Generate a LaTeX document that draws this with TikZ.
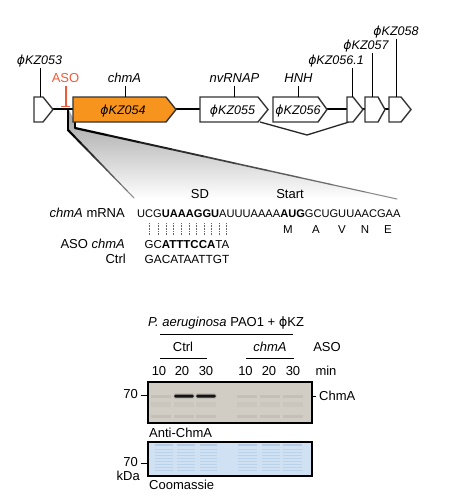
\documentclass[tikz,border=0pt]{standalone}
\usepackage{fontspec}
\setmainfont{Liberation Sans}
\newfontfamily\phifont{DejaVu Sans}
\usetikzlibrary{calc}
\definecolor{gene}{HTML}{F7941D}
\definecolor{asored}{HTML}{EF5B3A}
\definecolor{blotbg}{HTML}{D1CCC4}
\definecolor{coombg}{HTML}{CFE1F2}
\definecolor{coomband}{HTML}{9FBFE0}
\newcommand{\phit}{{\phifont\itshape ϕ}}
\newcommand{\phup}{{\phifont ϕ}}
\newcommand{\genearrow}[4][fill=white]{\draw[genebox,#1] (#2,97) -- (#3,97) -- (#4,109.5) -- (#3,122) -- (#2,122) -- cycle;}
\begin{document}
\begin{tikzpicture}[x=1pt,y=-1pt,
  lbl/.style={inner sep=0, font=\fontsize{13}{15}\selectfont},
  ilbl/.style={inner sep=0, font=\fontsize{13}{15}\selectfont\itshape},
  gl/.style={inner sep=0, font=\fontsize{12.5}{14}\selectfont\itshape},
  seqtxt/.style={inner sep=0, font=\fontsize{11.1}{13}\selectfont},
  genebox/.style={draw=black!80, line width=1.4pt, line join=miter},
  backbone/.style={line width=2.8pt},
  leader/.style={line width=0.7pt},
  pairline/.style={line width=0.5pt, black!60, dash pattern=on 0.8pt off 0.8pt},
  rule/.style={line width=0.7pt}]
\useasboundingbox (0,0) rectangle (451,504);
\fill[white] (0,0) rectangle (451,504);

% ---------- zoom wedge ----------
\coordinate (L0) at (68,108);
\coordinate (L1) at (68,130);
\coordinate (L2) at (134,198);
\coordinate (R0) at (75,122);
\coordinate (R1) at (75,128);
\coordinate (R2) at (397,199);
\shade[top color=gray!75, bottom color=white] (L0) -- (L1) -- (L2) -- (R2) -- (R1) -- (R0) -- cycle;
\draw[line width=2.2pt] (L0) -- (L1);
\draw[line width=2.2pt] (R0) -- (R1);
\foreach \i in {0,...,9}{
  \pgfmathsetmacro\ta{\i/10}
  \pgfmathsetmacro\tb{(\i+1)/10}
  \pgfmathtruncatemacro\cc{100-6*\i}
  \pgfmathsetmacro\ww{2.2-0.13*\i}
  \draw[black!\cc, line width=\ww pt, line cap=round] ($(L1)!\ta!(L2)$) -- ($(L1)!\tb!(L2)$);
  \draw[black!\cc, line width=\ww pt, line cap=round] ($(R1)!\ta!(R2)$) -- ($(R1)!\tb!(R2)$);
}

% ---------- gene map ----------
\coordinate (t053) at (53,109);
\coordinate (s054) at (73,109);
\coordinate (t054) at (176,109);
\coordinate (s055) at (200,109);
\coordinate (t056) at (327,109);
\coordinate (s0561) at (347,109);
\coordinate (t0561) at (363,109);
\coordinate (s057) at (365,109);
\coordinate (t057) at (385,109);
\coordinate (s058) at (389,109);
\draw[backbone] (t053) -- (s054);
\draw[backbone] (t054) -- (s055);
\draw[backbone] (t056) -- (s0561);
\draw[backbone] (t0561) -- (s057);
\draw[backbone] (t057) -- (s058);
% bracket below
\coordinate (b1) at (260,122);
\coordinate (b2) at (307,135);
\coordinate (b3) at (349,122);
\draw[line width=1.3pt, black!85] (b1) -- (b2) -- (b3);

\genearrow{34}{43}{53}
\genearrow[fill=gene]{73}{166}{176}
\genearrow{200}{258}{268}
\genearrow{273}{318}{327}
\genearrow{347}{353}{363}
\genearrow{365}{378}{385}
\genearrow{389}{401}{411}

\node[gl, anchor=base] (n054) at (123,114) {\phit KZ054};
\node[gl, anchor=base] (n055) at (232.5,114) {\phit KZ055};
\node[gl, anchor=base] (n056) at (298,114) {\phit KZ056};

\node[gl, anchor=base] (n053) at (39.5,64) {\phit KZ053};
\node[gl, anchor=base] (n0561) at (336,64) {\phit KZ056.1};
\node[gl, anchor=base] (n057) at (366,49) {\phit KZ057};
\node[gl, anchor=base] (n058) at (396,35) {\phit KZ058};
\draw[leader] (40,67.5) -- (40,97);
\draw[leader] (352,67.5) -- (352,97);
\draw[leader] (372,52.5) -- (372,97);
\draw[leader] (396,38.5) -- (396,97);

\node[lbl, anchor=base, text=asored] (aso) at (65.5,82.5) {ASO};
\draw[asored, line width=1.6pt] (66,86) -- (66,106.5);
\draw[asored, line width=1.6pt] (61,106.5) -- (70,106.5);

\node[ilbl, anchor=base] (chmA) at (124.5,82.5) {chmA};
\node[ilbl, anchor=base] (nvr) at (234.5,82.5) {nvRNAP};
\node[ilbl, anchor=base] (hnh) at (298.5,82.5) {HNH};
\draw[leader] (125,86) -- (125,97);
\draw[leader] (234,86) -- (234,97);
\draw[leader] (298,86) -- (298,97);

% ---------- sequence ----------
\node[lbl, anchor=base] (sd) at (200,198) {SD};
\node[lbl, anchor=base] (start) at (290,198) {Start};
\node[lbl, anchor=base east] (mrnalbl) at (125,217) {\textit{chmA} mRNA};
\node[seqtxt, anchor=base west] (mrna) at (137,217) {UCG\textbf{UAAAGGU}AUUUAAAA\textbf{AUG}GCUGUUAACGAA};
\foreach \x in {149.3,158.3,166,173.3,181.7,189.3,196.7,204,211.7,219.3,226.7}
  \draw[pairline] (\x,223) -- (\x,234.5);
\foreach \x/\a in {288/M,316/A,342/V,365/N,388/E}
  \node[lbl, anchor=base, font=\fontsize{11.5}{13}\selectfont] at (\x,233) {\a};
\node[lbl, anchor=base east] (asolbl) at (125,248) {ASO \textit{chmA}};
\node[seqtxt, anchor=base west, font=\fontsize{11.5}{13}\selectfont] (asoseq) at (144.5,248) {GC\textbf{ATTTCCA}TA};
\node[lbl, anchor=base east] (ctrllbl) at (126,263) {Ctrl};
\node[seqtxt, anchor=base west, font=\fontsize{11.8}{13}\selectfont] (ctrlseq) at (144.5,263) {GACATAATTGT};

% ---------- blot header ----------
\node[lbl, anchor=base west] (title) at (148,326) {\textit{P. aeruginosa} PAO1 + \phup KZ};
\draw[rule] (160,334) -- (293,334);
\node[lbl, anchor=base] (hctrl) at (183,351) {Ctrl};
\node[ilbl, anchor=base] (hchm) at (270,351) {chmA};
\node[lbl, anchor=base] (haso) at (327,351) {ASO};
\draw[rule] (160,358) -- (207,358);
\draw[rule] (246,358) -- (294,358);
\foreach \x/\t in {159/10,182/20,206/30,245.5/10,269/20,293/30}
  \node[lbl, anchor=base] at (\x,375) {\t};
\node[lbl, anchor=base] (hmin) at (326,375) {min};

% ---------- western blot ----------
\fill[blotbg] (148,382) rectangle (312,423);
\foreach \a/\b in {151/171,174/194,196/216,237/257,260/280,283/303}{
  \fill[black, opacity=0.06] (\a,414.5) rectangle (\b,418);
  \fill[black, opacity=0.03] (\a,402) rectangle (\b,407);
}
\foreach \a/\b in {151/171,237/257,260/280,283/303}
  \fill[black, opacity=0.06] (\a,394.5) rectangle (\b,397.5);
\foreach \a/\b in {174/194,196/216}{
  \fill[black, opacity=0.12, rounded corners=2pt] (\a-0.5,393.3) rectangle (\b+0.5,398.7);
  \fill[black!92, rounded corners=1.5pt] (\a,394.5) rectangle (\b,397.5);
}
\draw[line width=1.1pt] (148,382) rectangle (312,423);
\node[lbl, anchor=base east] (k70a) at (138,398) {70};
\draw[rule] (140.5,395) -- (148,395);
\draw[rule] (312,396) -- (316,396);
\node[lbl, anchor=base west] (chmAband) at (319,400.5) {ChmA};
\node[lbl, anchor=base west] (anti) at (149,437) {Anti-ChmA};

% ---------- coomassie ----------
\fill[coombg] (148,442) rectangle (312,476);
\foreach \a/\b in {155/173,177/195,200/217,238/257,262/280,283/302}{
  \fill[coomband, opacity=0.6] (\a,444) rectangle (\b,446);
  \foreach \y in {449,452,455,458,461,464,467,470}
    \fill[coomband, opacity=0.4] (\a,\y) rectangle (\b,\y+1.2);
}
\draw[line width=1.1pt] (148,442) rectangle (312,476);
\node[lbl, anchor=base east] (k70b) at (138,466.5) {70};
\draw[rule] (140.5,463) -- (148,463);
\node[lbl, anchor=base east] (kda) at (140,480) {kDa};
\node[lbl, anchor=base west] (coom) at (149,489) {Coomassie};
\end{tikzpicture}
\end{document}
